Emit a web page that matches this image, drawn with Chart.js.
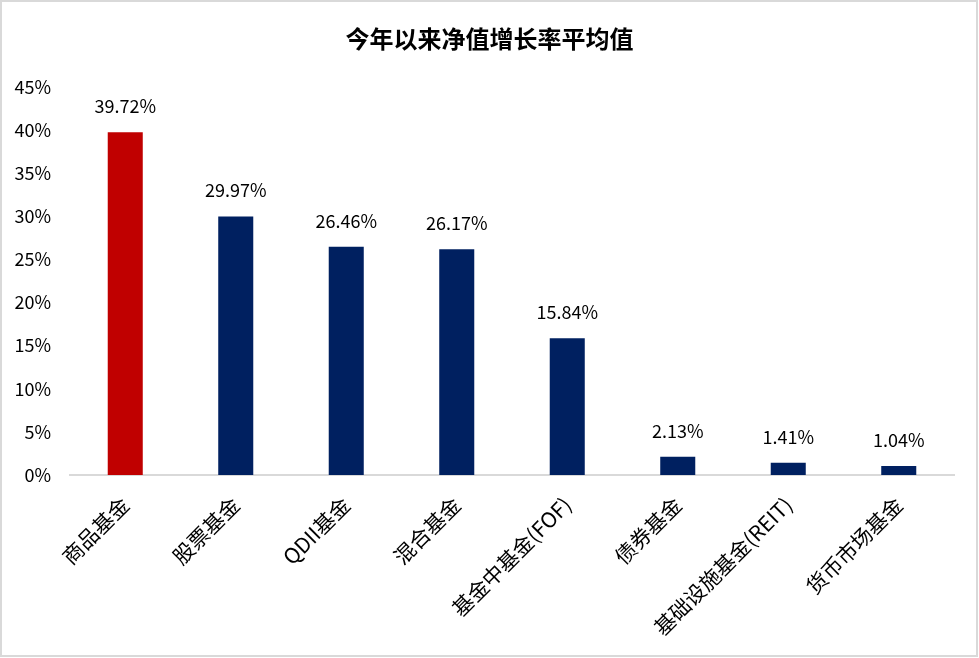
<!DOCTYPE html>
<html>
<head>
<meta charset="utf-8">
<script src="https://cdn.jsdelivr.net/npm/chart.js@4/dist/chart.umd.min.js"></script>
<style>
html,body{margin:0;padding:0;background:#fff;}
canvas{display:block;}
</style>
</head>
<body>
<canvas id="c" width="979" height="658"></canvas>
<script>
const categories = ["商品基金","股票基金","QDII基金","混合基金","基金中基金(FOF)","债券基金","基础设施基金(REIT)","货币市场基金"];
const values = [39.72, 29.97, 26.46, 26.17, 15.84, 2.13, 1.41, 1.04];
const barColors = ["#C00000","#002060","#002060","#002060","#002060","#002060","#002060","#002060"];
const yTicks = [0,5,10,15,20,25,30,35,40,45];
const titleText = "今年以来净值增长率平均值";
const FONT = "'Noto Sans CJK SC','Noto Sans',sans-serif";

const frame = {
  id:'frame',
  beforeDraw(chart){
    const ctx = chart.ctx;
    ctx.save();
    ctx.fillStyle = '#fff';
    ctx.fillRect(0,0,chart.width,chart.height);
    ctx.restore();
  },
  afterDraw(chart){
    const ctx = chart.ctx;
    ctx.save();
    ctx.strokeStyle = '#d9d9d9';
    ctx.lineWidth = 2;
    ctx.strokeRect(1,1,976,655);
    ctx.restore();
  }
};

const valueLabels = {
  id:'valueLabels',
  afterDatasetsDraw(chart){
    const ctx = chart.ctx;
    const meta = chart.getDatasetMeta(0);
    ctx.save();
    ctx.font = "18px " + FONT;
    ctx.fillStyle = '#000';
    ctx.textAlign = 'center';
    ctx.textBaseline = 'alphabetic';
    meta.data.forEach((bar,i)=>{
      ctx.fillText(values[i].toFixed(2)+'%', bar.x, bar.y - 19);
    });
    ctx.restore();
  }
};

new Chart(document.getElementById('c'), {
  type:'bar',
  data:{
    labels: categories,
    datasets:[{
      data: values,
      backgroundColor: barColors,
      categoryPercentage: 1,
      barPercentage: 0.317,
      yAxisID:'y'
    }]
  },
  options:{
    responsive:false,
    animation:false,
    layout:{padding:{left:0,right:0,top:0,bottom:0}},
    plugins:{
      legend:{display:false},
      tooltip:{enabled:false},
      title:{
        display:true,
        text:titleText,
        color:'#000',
        font:{family:FONT,size:24,weight:'bold'},
        padding:{top:24,bottom:34}
      }
    },
    scales:{
      x:{
        grid:{display:false,drawTicks:false},
        border:{display:true,color:'#d9d9d9',width:2},
        ticks:{
          color:'#000',
          font:{family:FONT,size:21},
          minRotation:45,maxRotation:45,
          padding:17,
          autoSkip:false
        },
        afterFit(scale){ scale.height = 183; }
      },
      y:{
        position:'left',
        min:0,max:45,
        grid:{display:false,drawTicks:false},
        border:{display:false},
        afterBuildTicks(scale){ scale.ticks = yTicks.map(v=>({value:v})); },
        ticks:{
          color:'#000',
          font:{family:FONT,size:18},
          padding:19,
          callback:(v)=>v+'%'
        },
        afterFit(scale){ scale.width = 70; }
      },
      yR:{
        position:'right',
        min:0,max:45,
        grid:{display:false,drawTicks:false},
        border:{display:false},
        ticks:{display:false},
        afterFit(scale){ scale.width = 25; }
      }
    }
  },
  plugins:[frame,valueLabels]
});
</script>
</body>
</html>
